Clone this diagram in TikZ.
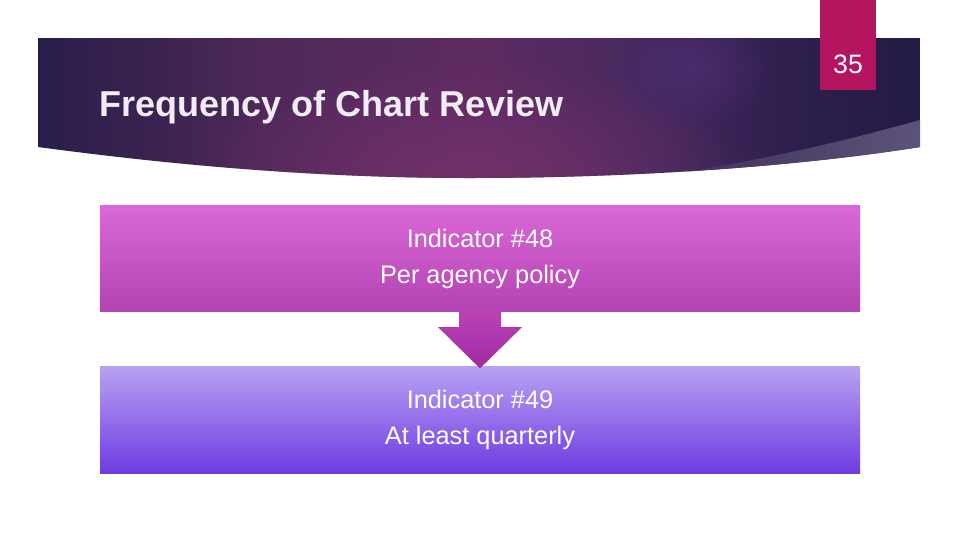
\documentclass[tikz,border=0pt]{standalone}
\usepackage{fontspec}
\setmainfont{Liberation Sans}
\usepackage{tikz}
\usetikzlibrary{positioning, calc, fadings}
\definecolor{bandleft}{HTML}{281D49}
\definecolor{bandplum}{HTML}{4D2858}
\definecolor{bandmid}{HTML}{5E2B62}
\definecolor{bandviolet}{HTML}{45285E}
\definecolor{bandnight}{HTML}{2E1F4E}
\definecolor{bandright}{HTML}{221B44}
\definecolor{bandglow}{HTML}{70306A}
\definecolor{bandspot}{HTML}{4A2B6C}
\definecolor{wedgeleft}{HTML}{3A2A56}
\definecolor{wedgeright}{HTML}{5D5378}
\definecolor{tabred}{HTML}{B3165F}
\definecolor{pinktop}{HTML}{DA68D8}
\definecolor{pinkbot}{HTML}{B443B2}
\definecolor{violettop}{HTML}{B8A1F2}
\definecolor{violetbot}{HTML}{6E3BE0}
\definecolor{arrowtop}{HTML}{B942B6}
\definecolor{arrowbot}{HTML}{A129A3}
\definecolor{titlewhite}{HTML}{F2ECF6}
\pgfdeclarehorizontalshading{bandshade}{100bp}{color(0bp)=(bandleft); color(25bp)=(bandleft);
  color(37.5bp)=(bandplum); color(50bp)=(bandmid); color(60bp)=(bandviolet); color(67.5bp)=(bandnight);
  color(75bp)=(bandright); color(100bp)=(bandright)}
\tikzfading[name=glowfade, inner color=transparent!0, outer color=transparent!100]

\begin{document}
\begin{tikzpicture}[x=0.75pt, y=-0.75pt,
  stagebox/.style={rectangle, minimum width=570pt, minimum height=80pt, inner sep=0pt,
    align=center, text=white, font=\fontsize{19}{27}\selectfont},
  pinkbox/.style={stagebox, top color=pinktop, bottom color=pinkbot},
  violetbox/.style={stagebox, top color=violettop, bottom color=violetbot}]
  \useasboundingbox (0,0) rectangle (960,540);
  % Banner
  \begin{scope}
    \clip (38,38) -- (920,38) -- (920,147) .. controls (800,166) and (640,178) .. (470,178)
      .. controls (300,178) and (150,162) .. (38,147) -- cycle;
    \shade[shading=bandshade] (38,38) rectangle (920,180);
    \fill[bandglow, path fading=glowfade] (470,175) ellipse [x radius=280, y radius=120];
    \fill[bandspot, path fading=glowfade] (690,68) ellipse [x radius=80, y radius=60];
    \shade[left color=wedgeleft, right color=wedgeright] (920,120) .. controls (840,142) and (760,162) .. (630,180)
      -- (920,180) -- cycle;
  \end{scope}
  % Page tab
  \fill[tabred] (820,0) rectangle (876,90);
  \node[text=white, font=\fontsize{20}{24}\selectfont] (pagenum) at (848,64) {35};
  % Title
  \node[anchor=base west, inner sep=0pt, text=titlewhite, font=\fontsize{27}{32}\selectfont\bfseries]
    (title) at (99,116) {Frequency of Chart Review};
  % Boxes
  \node[pinkbox] (ind48) at (480,258.5) {Indicator \#48\\Per agency policy};
  \node[violetbox] (ind49) at (480,420) {Indicator \#49\\At least quarterly};
  % Arrow
  \shade[top color=arrowtop, bottom color=arrowbot]
    ($(ind48.south)+(-21,0)$) -- ($(ind48.south)+(-21,15)$) -- ($(ind48.south)+(-42,15)$)
    -- ($(ind49.north)+(0,2)$) -- ($(ind48.south)+(42,15)$) -- ($(ind48.south)+(21,15)$)
    -- ($(ind48.south)+(21,0)$) -- cycle;
\end{tikzpicture}
\end{document}
